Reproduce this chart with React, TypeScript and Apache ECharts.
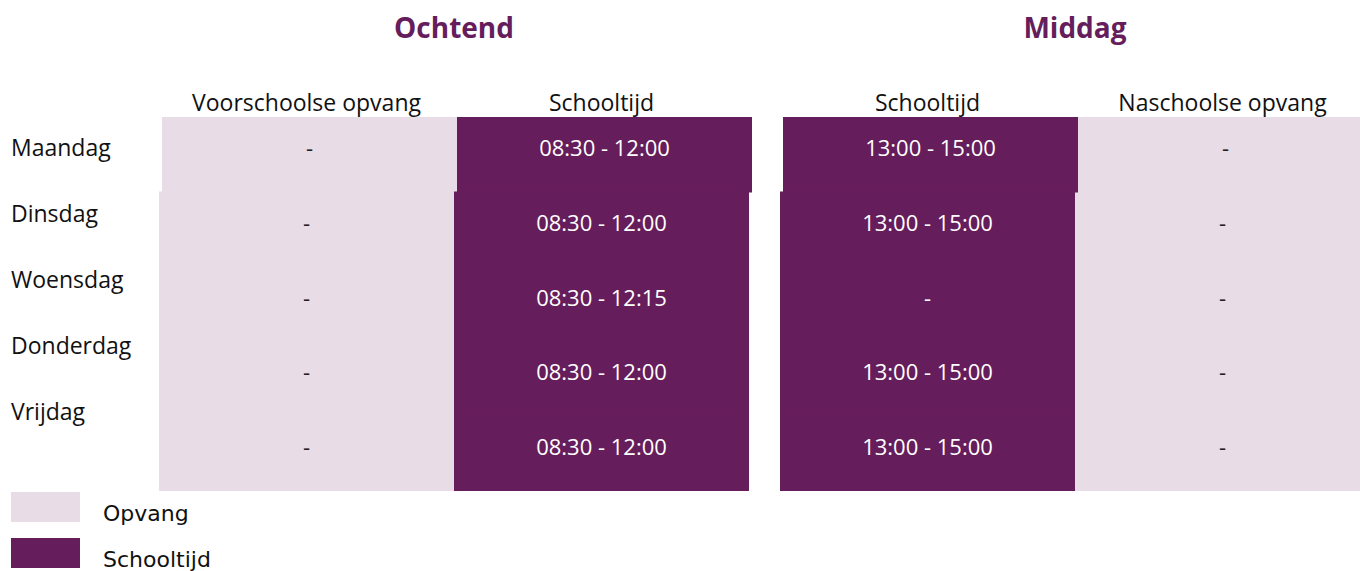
import React, { useEffect, useRef } from "react";
import * as echarts from "echarts";

const dayparts = ["Ochtend", "Middag"];
const days = ["Maandag", "Dinsdag", "Woensdag", "Donderdag", "Vrijdag"];
const columnHeaders = ["Voorschoolse opvang", "Schooltijd", "Schooltijd", "Naschoolse opvang"];
const columnKinds = ["Opvang", "Schooltijd", "Schooltijd", "Opvang"];
const voorschoolseOpvang = ["-", "-", "-", "-", "-"];
const schooltijdOchtend = ["08:30 - 12:00", "08:30 - 12:00", "08:30 - 12:15", "08:30 - 12:00", "08:30 - 12:00"];
const schooltijdMiddag = ["13:00 - 15:00", "13:00 - 15:00", "-", "13:00 - 15:00", "13:00 - 15:00"];
const naschoolseOpvang = ["-", "-", "-", "-", "-"];
const kinds = ["Opvang", "Schooltijd"];

const columnValues = [voorschoolseOpvang, schooltijdOchtend, schooltijdMiddag, naschoolseOpvang];

const LIGHT = "#e8dce6";
const DARK = "#661d5b";
const FONT = "'Open Sans', 'Noto Sans', sans-serif";
const GAP = 31 / 295;
const colStart = (c: number) => c + (c >= 2 ? GAP : 0);

export default function App() {
  const ref = useRef<HTMLDivElement>(null);
  useEffect(() => {
    if (!ref.current) return;
    const chart = echarts.init(ref.current, undefined, { renderer: "svg" });

    const cellSeries = kinds.map((kind) => {
      const data: any[] = [];
      columnValues.forEach((vals, c) => {
        if (columnKinds[c] !== kind) return;
        vals.forEach((v, r) => data.push([c, r, v]));
      });
      const fill = kind === "Opvang" ? LIGHT : DARK;
      const textFill = kind === "Opvang" ? "#222" : "#ffffff";
      return {
        name: kind,
        type: "custom",
        xAxisIndex: 0,
        yAxisIndex: 0,
        itemStyle: { color: fill },
        data,
        renderItem: (params: any, api: any) => {
          const c = api.value(0) as number;
          const r = api.value(1) as number;
          const text = data[params.dataIndex][2];
          const x0 = colStart(c);
          const p0 = api.coord([x0, r]);
          const p1 = api.coord([x0 + 1, r]);
          const bandH = api.size([0, 1])[1];
          const dx = r === 0 ? 3 : 0;
          const x = p0[0] + dx;
          const w = p1[0] - p0[0];
          const y = p0[1] - bandH / 2;
          return {
            type: "group",
            children: [
              { type: "rect", shape: { x, y, width: w, height: bandH + 1 }, style: { fill } },
              {
                type: "text",
                style: {
                  x: x + w / 2,
                  y: p0[1] - 7,
                  text,
                  align: "center",
                  verticalAlign: "middle",
                  fill: textFill,
                  fontSize: 22,
                  fontFamily: FONT,
                },
              },
            ],
          };
        },
      };
    });

    const headerSeries = {
      name: "headers",
      type: "custom",
      xAxisIndex: 0,
      yAxisIndex: 0,
      silent: true,
      data: columnHeaders.map((h, c) => [c, 0]),
      renderItem: (params: any, api: any) => {
        const c = api.value(0) as number;
        const p = api.coord([colStart(c) + 0.5, 0]);
        const top = params.coordSys.y;
        return {
          type: "text",
          style: {
            x: p[0],
            y: top - 15,
            text: columnHeaders[c],
            align: "center",
            verticalAlign: "middle",
            fill: "#111",
            fontSize: 23,
            fontFamily: FONT,
          },
        };
      },
    };

    const titleSeries = {
      name: "dayparts",
      type: "custom",
      xAxisIndex: 0,
      yAxisIndex: 0,
      silent: true,
      data: dayparts.map((d, i) => [i, 0]),
      renderItem: (params: any, api: any) => {
        const i = api.value(0) as number;
        const p = api.coord([colStart(2 * i + 1), 0]);
        const top = params.coordSys.y;
        return {
          type: "text",
          style: {
            x: p[0],
            y: top - 90,
            text: dayparts[i],
            align: "center",
            verticalAlign: "middle",
            fill: DARK,
            fontSize: 28,
            fontWeight: "bold",
            fontFamily: FONT,
          },
        };
      },
    };

    chart.setOption({
      animation: false,
      grid: [
        { left: 159, width: 1211, top: 117, bottom: 81, outerBoundsMode: "none", containLabel: false },
        { left: 159, width: 10, top: 114, height: 330, outerBoundsMode: "none" },
      ],
      xAxis: [
        { type: "value", gridIndex: 0, min: 0, max: 4 + GAP, show: false },
        { type: "value", gridIndex: 1, show: false },
      ],
      yAxis: [
        { type: "category", gridIndex: 0, data: days, inverse: true, show: false },
        {
          type: "category",
          gridIndex: 1,
          data: days,
          inverse: true,
          axisLine: { show: false },
          axisTick: { show: false },
          splitLine: { show: false },
          axisLabel: {
            align: "left",
            margin: 148,
            fontSize: 23,
            color: "#111",
            fontFamily: FONT,
          },
        },
      ],
      legend: {
        data: kinds,
        orient: "vertical",
        left: 11,
        top: 492,
        padding: 0,
        itemWidth: 69,
        itemHeight: 30,
        itemGap: 14,
        icon: "rect",
        selectedMode: false,
        formatter: (name: string) => `{gap|}\n{t|${name}}`,
        textStyle: {
          fontSize: 22,
          color: "#111",
          fontFamily: "'DejaVu Sans', sans-serif",
          padding: [0, 0, 0, 18],
          rich: {
            gap: { height: 12, fontSize: 10 },
            t: { fontSize: 22, color: "#111", fontFamily: "'DejaVu Sans', sans-serif", height: 18 },
          },
        },
      },
      series: [...cellSeries, headerSeries, titleSeries],
    });
    return () => chart.dispose();
  }, []);
  return (
    <div
      ref={ref}
      style={{ position: "absolute", left: 0, top: 0, width: 1360, height: 571, background: "#fff" }}
    />
  );
}
